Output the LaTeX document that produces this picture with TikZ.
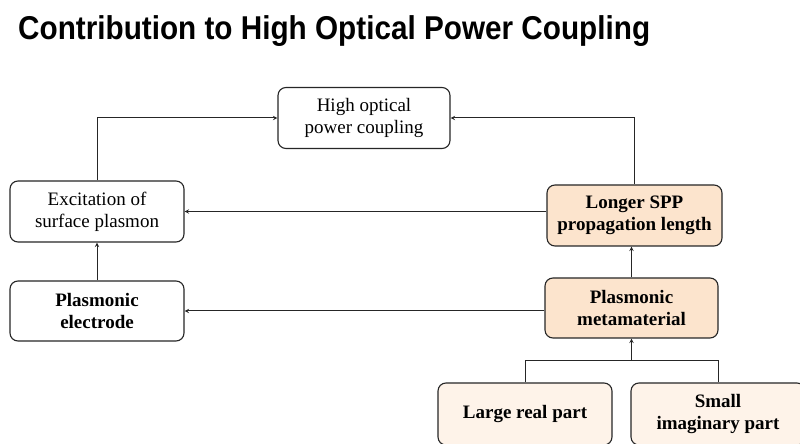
\documentclass[tikz,border=0pt]{standalone}
\usepackage{fontspec}
\setmainfont{Liberation Serif}
\newfontfamily\titlefont{Liberation Sans}
\usepackage{tikz}
\usetikzlibrary{arrows,positioning,calc}
\definecolor{peach}{HTML}{FCE4CD}
\definecolor{peachlight}{HTML}{FEF3E9}

\begin{document}
\begin{tikzpicture}[
  x=1pt, y=1pt,
  font=\fontsize{19}{22}\selectfont,
  >=stealth,
  comp/.style={draw=black!85, fill=#1, rounded corners=8pt, align=center, minimum width=174pt, minimum height=61pt, inner sep=2pt, line width=1.1pt},
  comp/.default=white,
  flow/.style={->, line width=1pt, draw=black!85},
  link/.style={line width=1pt, draw=black!85},
]
\useasboundingbox (0,0) rectangle (800,444);
\clip (0,0) rectangle (800,444);

% ---- title ----
\node[anchor=base west, inner sep=0pt, font=\titlefont\bfseries\fontsize{33}{36}\selectfont] (title) at (18,404) {\scalebox{0.9}[1]{Contribution to High Optical Power Coupling}};

% ---- left column ----
\node[comp, minimum width=172pt] (high)      at (364,326)   {High optical\\power coupling};
\node[comp]                      (excite)    at (97,232.5)  {Excitation of\\surface plasmon};
\node[comp, minimum height=60pt] (electrode) at (97,133)    {\textbf{Plasmonic}\\\textbf{electrode}};

% ---- right column ----
\node[comp=peach, minimum width=175pt] (spp)  at (634.5,228.5) {\textbf{Longer SPP}\\\textbf{propagation length}};
\node[comp=peach, minimum width=173pt, minimum height=60pt] (meta) at (631.5,136) {\textbf{Plasmonic}\\\textbf{metamaterial}};
\node[comp=peachlight, minimum height=62pt] (real)  at (525,30) {\textbf{Large real part}};
\node[comp=peachlight, minimum height=62pt] (small) at (718,30) {\textbf{Small}\\\textbf{imaginary part}};

% ---- flows to the top ----
\draw[flow] (excite.north) |- (high.west);
\draw[flow] (spp.north) |- (high.east);
\draw[flow] (spp.west |- excite.east) -- (excite.east);
\draw[flow] (electrode.north) -- (excite.south);
\draw[flow] (meta.west |- electrode.east) -- (electrode.east);
\draw[flow] (meta.north) -- (meta.north |- spp.south);

% ---- bottom merge ----
\coordinate (bus) at (0,83);
\draw[link] (real.north) -- (real.north |- bus) -- (small.north |- bus) -- (small.north);
\draw[flow] (meta.south |- bus) -- (meta.south);
\end{tikzpicture}
\end{document}
